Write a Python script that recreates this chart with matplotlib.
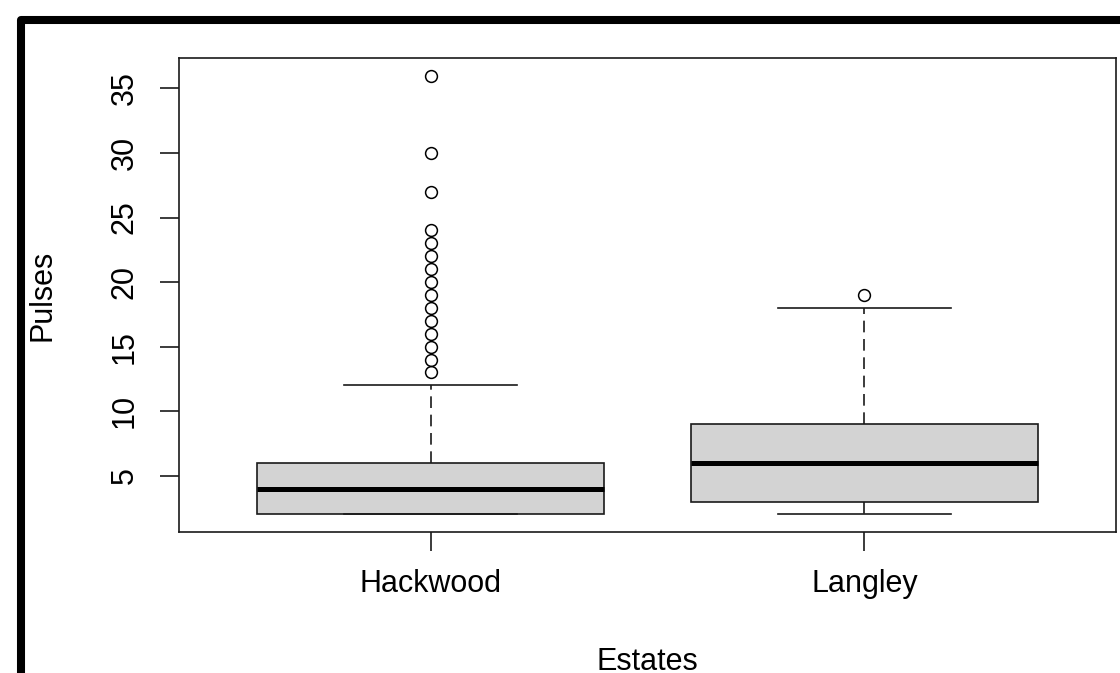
import matplotlib
matplotlib.use("Agg")
import matplotlib.pyplot as plt
from matplotlib.lines import Line2D

plt.rcParams['font.family'] = ['Liberation Sans', 'DejaVu Sans']

# dados
estates = ["Hackwood", "Langley"]
q1 = [2, 3]
medians = [4, 6]
q3 = [6, 9]
whis_lo = [2, 2]
whis_hi = [12, 18]
fliers = [
    [13, 14, 15, 16, 17, 18, 19, 20, 21, 22, 23, 24, 27, 30, 36],
    [19],
]
y_ticks = [5, 10, 15, 20, 25, 30, 35]

stats = []
for i in range(len(estates)):
    stats.append({
        "label": estates[i],
        "q1": q1[i],
        "med": medians[i],
        "q3": q3[i],
        "whislo": whis_lo[i],
        "whishi": whis_hi[i],
        "fliers": fliers[i],
    })

fig = plt.figure(figsize=(11.2, 6.73), dpi=100)
ax = fig.add_axes([179 / 1120, 1 - 532 / 673, 937 / 1120, 474 / 673])

ax.bxp(
    stats,
    positions=[1, 2],
    widths=0.8,
    capwidths=0.4,
    patch_artist=True,
    boxprops=dict(facecolor="#d3d3d3", edgecolor="#1a1a1a", linewidth=1.2),
    medianprops=dict(color="black", linewidth=3.6, solid_capstyle="butt"),
    whiskerprops=dict(color="#1a1a1a", linewidth=1.2, linestyle=(0, (7, 4))),
    capprops=dict(color="#1a1a1a", linewidth=1.2),
    flierprops=dict(marker="o", markerfacecolor="none", markeredgecolor="black",
                    markersize=8.5, markeredgewidth=1.1),
)

ax.set_xlim(0.42, 2.58)
ax.set_ylim(0.64, 37.36)
ax.set_yticks(y_ticks)
ax.set_xticks([1, 2])
ax.set_xticklabels(estates)

for s in ax.spines.values():
    s.set_linewidth(1.2)
    s.set_color("#1a1a1a")

ax.tick_params(axis="both", length=13.5, width=1.2, color="#1a1a1a", labelsize=22)
ax.tick_params(axis="x", pad=13)
ax.tick_params(axis="y", pad=15, labelrotation=90)
for lab in ax.get_yticklabels():
    lab.set_va("center")

ax.set_ylabel("Pulses", fontsize=22)
ax.yaxis.set_label_coords(-0.130, 0.5)
ax.set_xlabel("Estates", fontsize=22)
ax.xaxis.set_label_coords(0.5, -0.243)

# moldura preta da captura de tela
fig.add_artist(Line2D([21 / 1120, 21 / 1120, 1.02], [-0.02, 1 - 20 / 673, 1 - 20 / 673],
                      transform=fig.transFigure, color="black", linewidth=5.8,
                      solid_joinstyle="round"))

fig.savefig("out.png", dpi=100)
